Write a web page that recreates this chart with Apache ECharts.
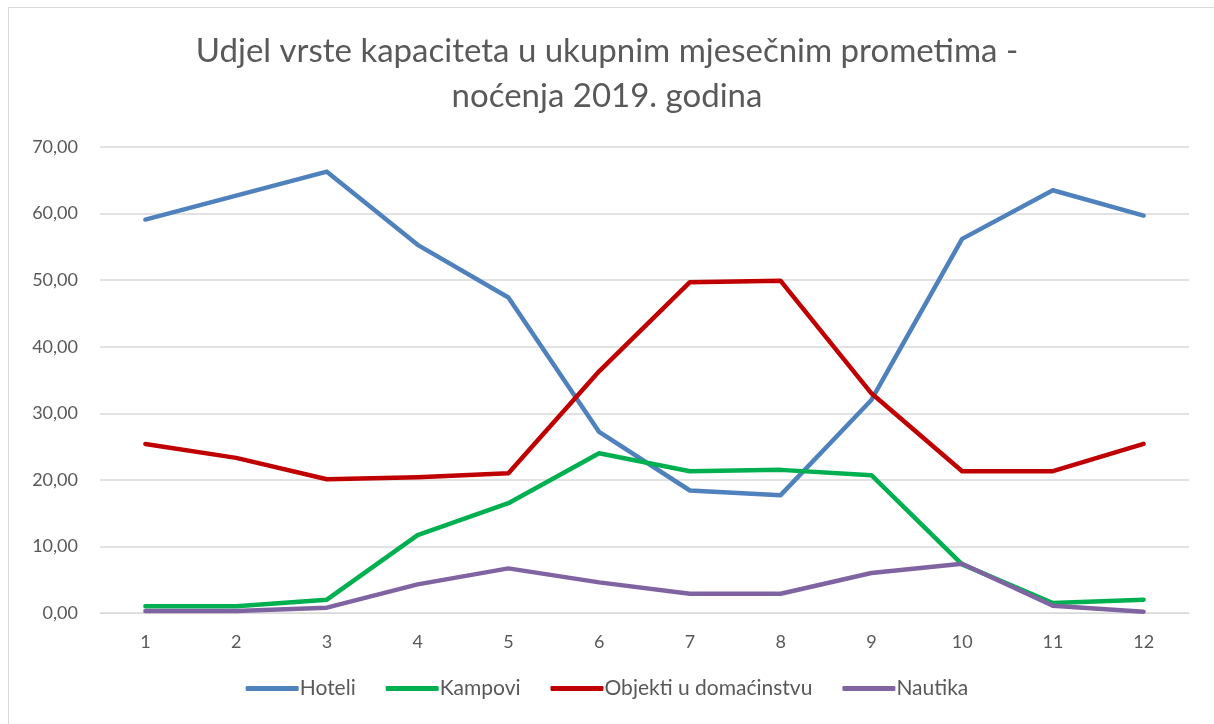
<!DOCTYPE html>
<html>
<head>
<meta charset="utf-8">
<script src="https://cdn.jsdelivr.net/npm/echarts@6/dist/echarts.min.js"></script>
<style>
  html, body { margin: 0; padding: 0; background: #fff; }
  #frame { position: absolute; left: 8px; top: 7px; width: 1214px; height: 730px; border: 1px solid #d9d9d9; box-sizing: border-box; }
  #chart { position: absolute; left: 0; top: 0; width: 1214px; height: 724px; }
</style>
</head>
<body>
<div id="frame"></div>
<div id="chart"></div>
<script>
var months = ['1', '2', '3', '4', '5', '6', '7', '8', '9', '10', '11', '12'];
var hoteli = [59.1, 62.7, 66.3, 55.3, 47.4, 27.2, 18.4, 17.7, 32.0, 56.2, 63.5, 59.7];
var kampovi = [1.0, 1.0, 2.0, 11.7, 16.5, 24.0, 21.3, 21.5, 20.7, 7.3, 1.5, 2.0];
var objekti = [25.4, 23.3, 20.1, 20.4, 21.0, 36.3, 49.7, 49.9, 33.0, 21.3, 21.3, 25.4];
var nautika = [0.3, 0.3, 0.8, 4.3, 6.7, 4.6, 2.9, 2.9, 6.0, 7.4, 1.1, 0.2];
var yTicks = [0, 10, 20, 30, 40, 50, 60, 70];

var names = ['Hoteli', 'Kampovi', 'Objekti u domaćinstvu', 'Nautika'];
var colors = ['#4f81bd', '#00b050', '#c00000', '#8064a2'];
var values = [hoteli, kampovi, objekti, nautika];

var chart = echarts.init(document.getElementById('chart'));

var series = names.map(function (n, i) {
    return {
        name: n,
        type: 'line',
        data: values[i],
        symbol: 'none',
        lineStyle: { width: 4.5, color: colors[i], cap: 'round', join: 'round' },
        itemStyle: { color: colors[i] }
    };
});

chart.setOption({
    animation: false,
    textStyle: { fontFamily: 'Lato' },
    title: {
        text: 'Udjel vrste kapaciteta u ukupnim mjesečnim prometima -\nnoćenja 2019. godina',
        left: 'center',
        top: 24,
        textStyle: { fontFamily: 'Lato', fontSize: 33, fontWeight: 'normal', color: '#595959', lineHeight: 45 }
    },
    legend: {
        data: names,
        bottom: 20,
        left: 'center',
        icon: 'roundRect',
        itemWidth: 53,
        itemHeight: 5,
        itemGap: 30,
        textStyle: { fontFamily: 'Lato', fontSize: 21, color: '#595959', padding: [0, 0, 0, -4] }
    },
    grid: { left: 100, right: 25, top: 147, bottom: 111, containLabel: false },
    xAxis: {
        type: 'category',
        data: months,
        boundaryGap: true,
        axisLine: { lineStyle: { color: '#d9d9d9' } },
        axisTick: { show: false },
        axisLabel: { color: '#595959', fontSize: 18, margin: 20 }
    },
    yAxis: {
        type: 'value',
        min: yTicks[0],
        max: yTicks[yTicks.length - 1],
        interval: 10,
        axisLine: { show: false },
        axisTick: { show: false },
        splitLine: { lineStyle: { color: '#d9d9d9', width: 1.5 } },
        axisLabel: {
            color: '#595959',
            fontSize: 18,
            margin: 22,
            formatter: function (v) { return v.toFixed(2).replace('.', ','); }
        }
    },
    series: series
});
</script>
</body>
</html>
